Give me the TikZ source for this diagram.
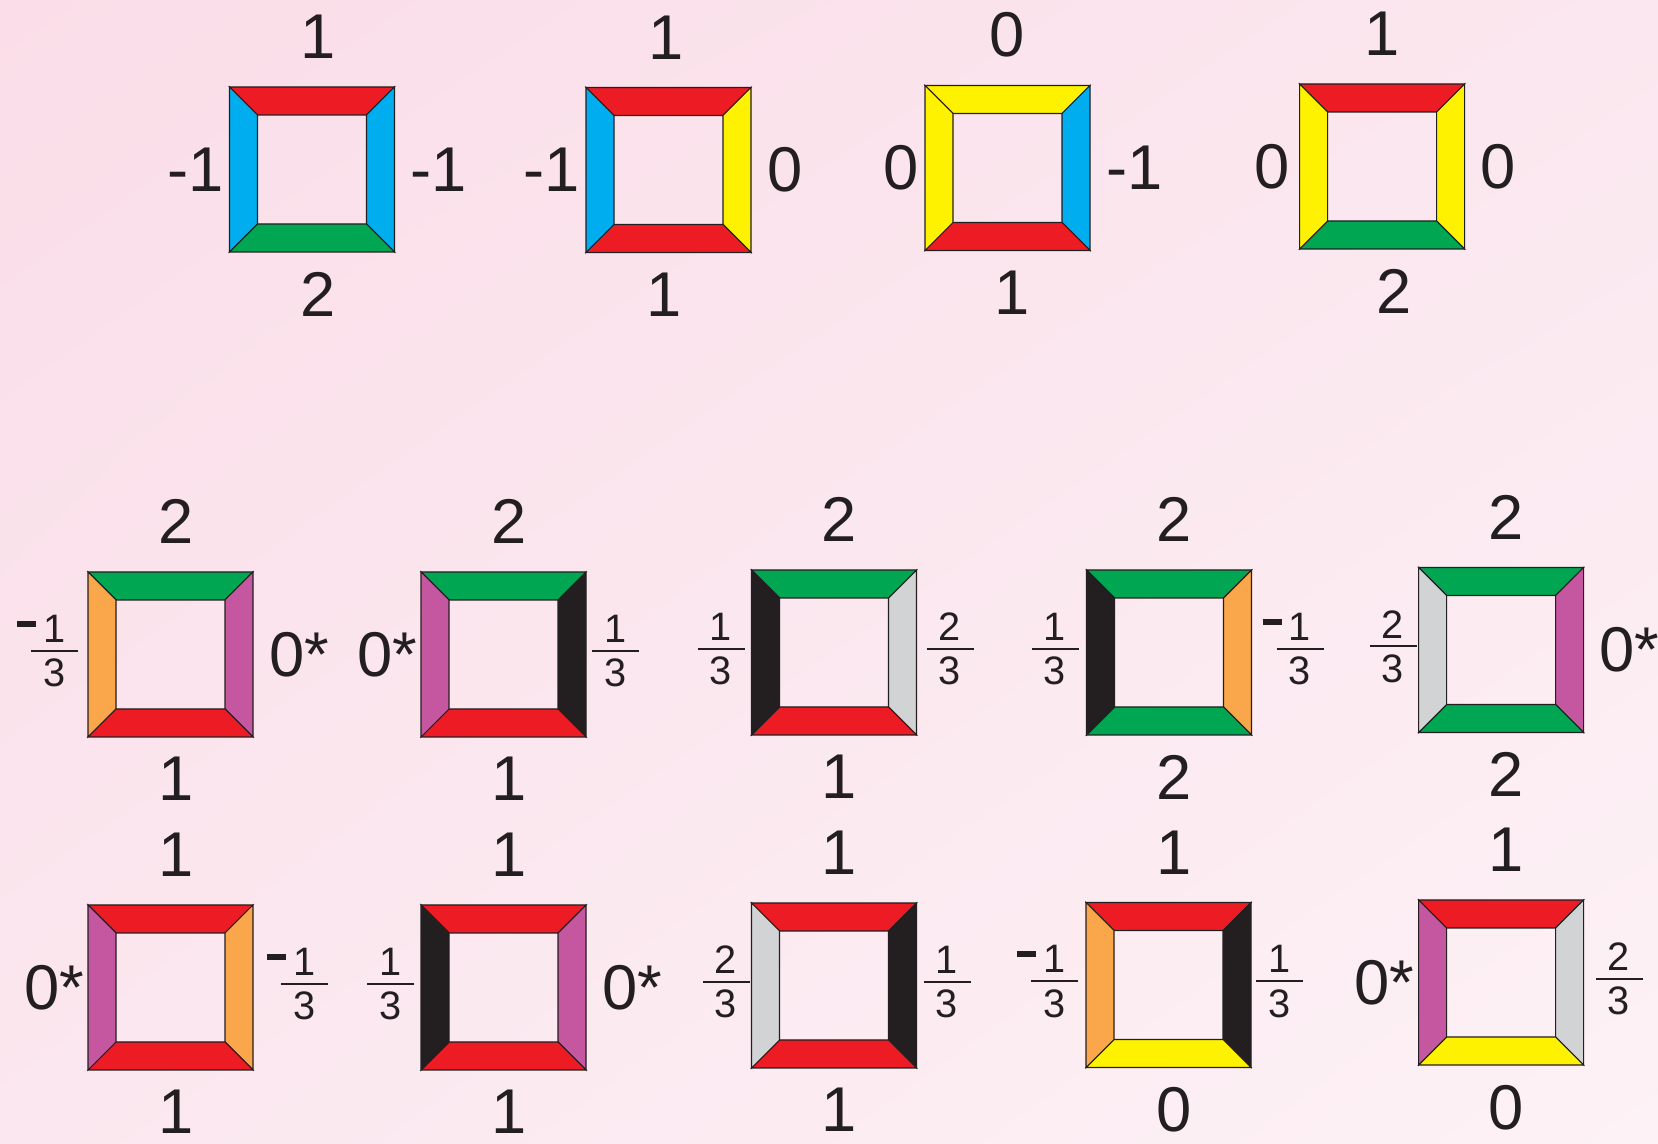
\documentclass[tikz,border=0pt]{standalone}
\usepackage{amsmath}
\usepackage{fontspec}
\setmainfont{Liberation Sans}
\usepackage{xcolor}
\usetikzlibrary{positioning,shadings}

\definecolor{tred}{RGB}{237,28,36}
\definecolor{tblue}{RGB}{0,174,239}
\definecolor{tgreen}{RGB}{0,166,81}
\definecolor{tyellow}{RGB}{255,242,0}
\definecolor{torange}{RGB}{250,166,74}
\definecolor{tpurple}{RGB}{196,87,160}
\definecolor{tblack}{RGB}{35,31,32}
\definecolor{tgrey}{RGB}{209,211,212}
\definecolor{bgdark}{RGB}{250,221,232}
\definecolor{bgmid}{RGB}{251,231,239}
\definecolor{bglight}{RGB}{253,242,246}

\nulldelimiterspace=0pt
% frame: name, centre, top, right, bottom, left
\newcommand{\frametile}[6]{%
  \node[tilebox] (#1) at (#2) {};
  \filldraw[rim, fill=#3] (#1.north west) -- (#1.north east) -- ++(-0.28,-0.28) -- ++(-1.09,0) -- cycle;
  \filldraw[rim, fill=#4] (#1.north east) -- (#1.south east) -- ++(-0.28,0.28) -- ++(0,1.09) -- cycle;
  \filldraw[rim, fill=#5] (#1.south east) -- (#1.south west) -- ++(0.28,0.28) -- ++(1.09,0) -- cycle;
  \filldraw[rim, fill=#6] (#1.south west) -- (#1.north west) -- ++(0.28,-0.28) -- ++(0,-1.09) -- cycle;
}
\newcommand{\third}[1]{$\genfrac{}{}{0.6pt}{1}{\makebox[0.47cm]{\rule[-1.5pt]{0pt}{1.5pt}#1}}{\makebox[0.47cm]{\rule{0pt}{9.3pt}3}}$}
\newcommand{\negdash}{\rule[9.6pt]{0.19cm}{0.06cm}\kern-0.05cm}

\begin{document}
\begin{tikzpicture}[
  tilebox/.style={minimum size=1.65cm, inner sep=0pt, outer sep=0pt},
  rim/.style={draw=tblack, line width=0.3pt},
  num/.style={font=\fontsize{18}{20}\selectfont, text=tblack, inner sep=0pt, outer sep=0pt},
  colnum/.style={num, xshift=0.055cm},
  frac/.style={font=\fontsize{11.3}{13}\selectfont, text=tblack, inner sep=0pt, outer sep=0pt, yshift=1pt},
]
\shade[upper left=bgdark, upper right=bgmid, lower left=bgmid, lower right=bglight] (0,0) rectangle (16.58,11.44);
\useasboundingbox (0,0) rectangle (16.58,11.44);

% === Top row ===
\frametile{t1}{3.12,9.745}{tred}{tblue}{tgreen}{tblue}
\node[num, above=0.28cm of t1, xshift=0.06cm] (t1n) {1};
\node[num, below=0.2cm of t1, xshift=0.06cm] (t1s) {2};
\node[num, left=0.06cm of t1] (t1w) {-1};
\node[num, right=0.16cm of t1] (t1e) {-1};

\frametile{t2}{6.685,9.74}{tred}{tyellow}{tred}{tblue}
\node[num, above=0.28cm of t2, xshift=-0.02cm] (t2n) {1};
\node[num, below=0.2cm of t2, xshift=-0.04cm] (t2s) {1};
\node[num, left=0.06cm of t2] (t2w) {-1};
\node[num, right=0.16cm of t2] (t2e) {0};

\frametile{t3}{10.075,9.76}{tyellow}{tblue}{tred}{tyellow}
\node[num, above=0.28cm of t3] (t3n) {0};
\node[num, below=0.2cm of t3, xshift=0.05cm] (t3s) {1};
\node[num, left=0.06cm of t3] (t3w) {0};
\node[num, right=0.16cm of t3] (t3e) {-1};

\frametile{t4}{13.82,9.775}{tred}{tyellow}{tgreen}{tyellow}
\node[num, above=0.28cm of t4] (t4n) {1};
\node[num, below=0.2cm of t4, xshift=0.12cm] (t4s) {2};
\node[num, left=0.1cm of t4] (t4w) {0};
\node[num, right=0.16cm of t4] (t4e) {0};

% === Middle row ===
\frametile{b1}{1.705,4.895}{tgreen}{tpurple}{tred}{torange}
\node[colnum, above=0.28cm of b1] (b1n) {2};
\node[colnum, below=0.2cm of b1] (b1s) {1};
\node[frac, left=0.1cm of b1] (b1w) {\negdash\third{1}};
\node[num, right=0.16cm of b1] (b1e) {0*};

\frametile{b2}{5.035,4.895}{tgreen}{tblack}{tred}{tpurple}
\node[colnum, above=0.28cm of b2] (b2n) {2};
\node[colnum, below=0.2cm of b2] (b2s) {1};
\node[num, left=0.04cm of b2] (b2w) {0*};
\node[frac, right=0.06cm of b2] (b2e) {\third{1}};

\frametile{b3}{8.34,4.915}{tgreen}{tgrey}{tred}{tblack}
\node[colnum, above=0.28cm of b3] (b3n) {2};
\node[colnum, below=0.2cm of b3] (b3s) {1};
\node[frac, left=0.07cm of b3] (b3w) {\third{1}};
\node[frac, right=0.1cm of b3] (b3e) {\third{2}};

\frametile{b4}{11.69,4.915}{tgreen}{torange}{tgreen}{tblack}
\node[colnum, above=0.28cm of b4] (b4n) {2};
\node[colnum, below=0.2cm of b4] (b4s) {2};
\node[frac, left=0.08cm of b4] (b4w) {\third{1}};
\node[frac, right=0.11cm of b4] (b4e) {\negdash\third{1}};

\frametile{b5}{15.01,4.94}{tgreen}{tpurple}{tgreen}{tgrey}
\node[colnum, above=0.28cm of b5] (b5n) {2};
\node[colnum, below=0.2cm of b5] (b5s) {2};
\node[frac, left=0.02cm of b5] (b5w) {\third{2}};
\node[num, right=0.16cm of b5] (b5e) {0*};

% === Bottom row ===
\frametile{c1}{1.705,1.565}{tred}{torange}{tred}{tpurple}
\node[colnum, above=0.28cm of c1] (c1n) {1};
\node[colnum, below=0.2cm of c1] (c1s) {1};
\node[num, left=0.04cm of c1] (c1w) {0*};
\node[frac, right=0.14cm of c1] (c1e) {\negdash\third{1}};

\frametile{c2}{5.035,1.565}{tred}{tpurple}{tred}{tblack}
\node[colnum, above=0.28cm of c2] (c2n) {1};
\node[colnum, below=0.2cm of c2] (c2s) {1};
\node[frac, left=0.07cm of c2] (c2w) {\third{1}};
\node[num, right=0.16cm of c2] (c2e) {0*};

\frametile{c3}{8.34,1.585}{tred}{tblack}{tred}{tgrey}
\node[colnum, above=0.28cm of c3] (c3n) {1};
\node[colnum, below=0.2cm of c3] (c3s) {1};
\node[frac, left=0.02cm of c3] (c3w) {\third{2}};
\node[frac, right=0.07cm of c3] (c3e) {\third{1}};

\frametile{c4}{11.685,1.59}{tred}{tblack}{tyellow}{torange}
\node[colnum, above=0.28cm of c4] (c4n) {1};
\node[colnum, below=0.2cm of c4] (c4s) {0};
\node[frac, left=0.08cm of c4] (c4w) {\negdash\third{1}};
\node[frac, right=0.05cm of c4] (c4e) {\third{1}};

\frametile{c5}{15.01,1.615}{tred}{tgrey}{tyellow}{tpurple}
\node[colnum, above=0.28cm of c5] (c5n) {1};
\node[colnum, below=0.2cm of c5] (c5s) {0};
\node[num, left=0.04cm of c5] (c5w) {0*};
\node[frac, right=0.12cm of c5] (c5e) {\third{2}};
\end{tikzpicture}
\end{document}
